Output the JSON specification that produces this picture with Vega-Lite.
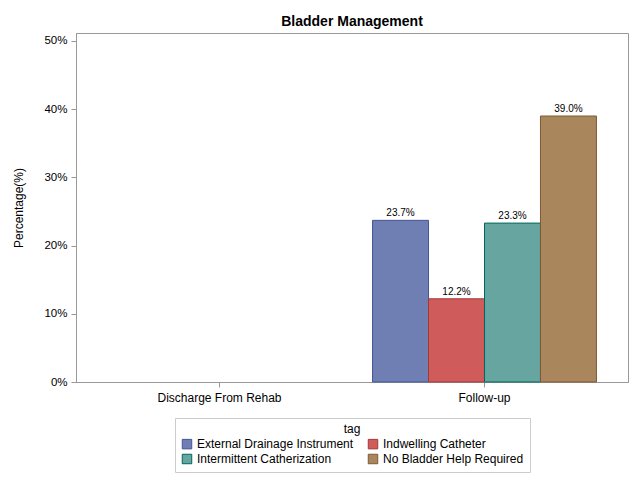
{
  "$schema": "https://vega.github.io/schema/vega-lite/v6.json",
  "width": 552,
  "height": 349,
  "autosize": {"type": "none"},
  "padding": {"left": 76, "top": 33, "right": 12, "bottom": 98},
  "background": "white",
  "title": {"text": "Bladder Management", "fontSize": 14, "fontWeight": "bold", "font": "Liberation Sans", "anchor": "middle", "frame": "group", "offset": 8, "dy": 18, "color": "black", "baseline": "bottom"},
  "data": {
    "values": [
      {"period": "Follow-up", "tag": "External Drainage Instrument", "pct": 0.237},
      {"period": "Follow-up", "tag": "Indwelling Catheter", "pct": 0.122},
      {"period": "Follow-up", "tag": "Intermittent Catherization", "pct": 0.233},
      {"period": "Follow-up", "tag": "No Bladder Help Required", "pct": 0.390}
    ]
  },
  "encoding": {
    "x": {
      "field": "period", "type": "nominal",
      "scale": {"domain": ["Discharge From Rehab", "Follow-up"], "paddingInner": 0.155, "paddingOuter": 0.119},
      "axis": {"title": null, "labelAngle": 0, "labelFontSize": 12, "labelPadding": 5, "tickSize": 5}
    },
    "xOffset": {"field": "tag", "type": "nominal", "scale": {"paddingInner": 0, "paddingOuter": 0}},
    "y": {
      "field": "pct", "type": "quantitative",
      "scale": {"domain": [0, 0.5117], "nice": false, "zero": true},
      "axis": {"values": [0, 0.1, 0.2, 0.3, 0.4, 0.5], "format": ".0%", "title": "Percentage(%)", "grid": false, "labelFontSize": 11.5, "titleFontSize": 12, "titleFontWeight": "normal", "titlePadding": 18, "tickSize": 5, "labelPadding": 4}
    }
  },
  "layer": [
    {
      "mark": {"type": "bar", "strokeWidth": 1},
      "encoding": {
        "fill": {
          "field": "tag", "type": "nominal",
          "scale": {"domain": ["External Drainage Instrument", "Indwelling Catheter", "Intermittent Catherization", "No Bladder Help Required"], "range": ["#6F7EB3", "#D05B5B", "#66A5A0", "#A9865B"]},
          "legend": {"title": "tag", "orient": "none", "legendX": 99, "legendY": 385}
        },
        "stroke": {
          "field": "tag", "type": "nominal",
          "scale": {"domain": ["External Drainage Instrument", "Indwelling Catheter", "Intermittent Catherization", "No Bladder Help Required"], "range": ["#445694", "#A23A3A", "#01665E", "#7F5934"]},
          "legend": {"title": "tag", "orient": "none", "legendX": 99, "legendY": 385}
        }
      }
    },
    {
      "mark": {"type": "text", "dy": -7, "fontSize": 10, "font": "Liberation Sans", "color": "black"},
      "encoding": {
        "text": {"field": "pct", "type": "quantitative", "format": ".1%"}
      }
    }
  ],
  "config": {
    "font": "Liberation Sans",
    "view": {"stroke": "#999999", "strokeWidth": 1},
    "axis": {"domainColor": "#999999", "tickColor": "#999999", "labelColor": "black", "titleColor": "black", "labelFont": "Liberation Sans", "titleFont": "Liberation Sans"},
    "legend": {
      "direction": "horizontal", "columns": 2, "titleAnchor": "middle",
      "strokeColor": "#cccccc", "padding": 6,
      "symbolType": "square", "symbolSize": 90, "symbolStrokeWidth": 1,
      "labelFontSize": 12, "titleFontSize": 12, "titleFontWeight": "normal", "labelColor": "black", "titleColor": "black",
      "columnPadding": 12, "rowPadding": 1, "titlePadding": 2
    }
  }
}
